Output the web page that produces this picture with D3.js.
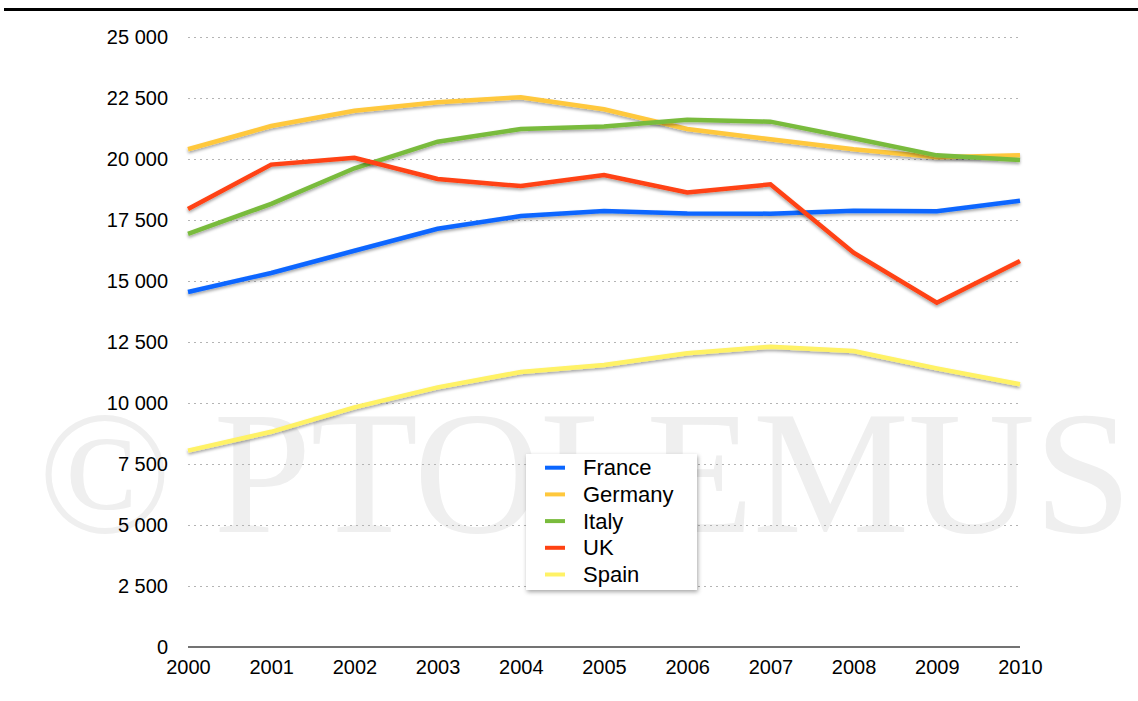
<!DOCTYPE html>
<html>
<head>
<meta charset="utf-8">
<script src="https://cdn.jsdelivr.net/npm/d3@7"></script>
<style>
  html, body { margin: 0; padding: 0; background: #fff; }
  svg { display: block; }
</style>
</head>
<body>
<svg id="chart" width="1138" height="701"></svg>
<script>
const years = [2000, 2001, 2002, 2003, 2004, 2005, 2006, 2007, 2008, 2009, 2010];
const france  = [14550, 15330, 16240, 17140, 17660, 17870, 17770, 17760, 17880, 17860, 18290];
const germany = [20400, 21350, 21980, 22330, 22530, 22040, 21230, 20810, 20400, 20070, 20150];
const italy   = [16930, 18160, 19620, 20710, 21230, 21330, 21610, 21530, 20850, 20150, 19960];
const uk      = [17950, 19770, 20050, 19180, 18890, 19340, 18630, 18960, 16160, 14110, 15820];
const spain   = [8050, 8820, 9820, 10640, 11270, 11560, 12040, 12310, 12130, 11420, 10770];
const seriesNames = ["France", "Germany", "Italy", "UK", "Spain"];
const seriesColors = ["#0a66ff", "#ffc83c", "#79bb3c", "#ff4212", "#fff266"];
const yTicks = [0, 2500, 5000, 7500, 10000, 12500, 15000, 17500, 20000, 22500, 25000];

const seriesValues = [france, germany, italy, uk, spain];
const series = seriesNames.map((n, i) => ({ name: n, color: seriesColors[i], values: seriesValues[i] }));

const svg = d3.select("#chart");
const x = d3.scaleLinear().domain([2000, 2010]).range([188, 1020]);
const y = d3.scaleLinear().domain([0, 25000]).range([647, 37]);

const defs = svg.append("defs");
const f = defs.append("filter").attr("id", "shadow").attr("x", "-10%").attr("y", "-10%").attr("width", "120%").attr("height", "130%");
f.append("feDropShadow").attr("dx", 0).attr("dy", 2).attr("stdDeviation", 1.6)
  .attr("flood-color", "#000").attr("flood-opacity", 0.35);
const f2 = defs.append("filter").attr("id", "boxshadow").attr("x", "-10%").attr("y", "-10%").attr("width", "125%").attr("height", "125%");
f2.append("feDropShadow").attr("dx", 1).attr("dy", 2).attr("stdDeviation", 2)
  .attr("flood-color", "#000").attr("flood-opacity", 0.35);

// top rule
svg.append("rect").attr("x", 4).attr("y", 8).attr("width", 1134).attr("height", 3).attr("fill", "#000");

// watermark
svg.append("text")
  .attr("x", 38).attr("y", 532)
  .attr("font-family", "'Liberation Serif', 'Times New Roman', serif")
  .attr("font-size", 176)
  .attr("fill", "#efefef")
  .attr("textLength", 1094)
  .attr("lengthAdjust", "spacing")
  .text("© PTOLEMUS");

// gridlines
svg.append("g").selectAll("line").data(yTicks.filter(d => d > 0)).join("line")
  .attr("x1", 188).attr("x2", 1020)
  .attr("y1", d => Math.round(y(d)) + 0.5).attr("y2", d => Math.round(y(d)) + 0.5)
  .attr("stroke", "#b4b4b4").attr("stroke-width", 1).attr("stroke-dasharray", "2,4");

// y axis labels
const fmt = d => d3.format(",")(d).replace(/,/g, " ");
const yAxis = d3.axisLeft(y).tickValues(yTicks).tickFormat(fmt).tickSize(0).tickPadding(0);
const yg = svg.append("g").attr("transform", "translate(168,0)").call(yAxis);
yg.select(".domain").remove();
yg.selectAll("text").attr("font-family", "'Liberation Sans', Arial, sans-serif").attr("font-size", 20).attr("fill", "#000");

// x axis
const xAxis = d3.axisBottom(x).tickValues(years).tickFormat(d3.format("d")).tickSize(0).tickPadding(0);
const xg = svg.append("g").attr("transform", "translate(0,647)").call(xAxis);
xg.select(".domain").attr("stroke", "#444").attr("stroke-width", 1.5).attr("d", "M188,0H1020");
xg.selectAll("text").attr("font-family", "'Liberation Sans', Arial, sans-serif").attr("font-size", 20).attr("fill", "#000")
  .attr("dy", null).attr("y", 27);

// lines
const line = d3.line().x((d, i) => x(years[i])).y(d => y(d));
const lg = svg.append("g");
lg.selectAll("path").data(series).join("path")
  .attr("d", d => line(d.values))
  .attr("fill", "none")
  .attr("stroke", d => d.color)
  .attr("stroke-width", 4.5)
  .attr("stroke-linejoin", "miter")
  .attr("filter", "url(#shadow)");

// legend
const leg = svg.append("g");
leg.append("rect").attr("x", 526).attr("y", 454).attr("width", 171).attr("height", 136)
  .attr("fill", "#fff").attr("filter", "url(#boxshadow)");
const rows = leg.selectAll("g.row").data(series).join("g").attr("class", "row")
  .attr("transform", (d, i) => `translate(0,${467.7 + i * 26.7})`);
rows.append("line").attr("x1", 545).attr("x2", 565).attr("y1", 0).attr("y2", 0)
  .attr("stroke", d => d.color).attr("stroke-width", 4);
rows.append("text").attr("x", 583).attr("y", 7.5)
  .attr("font-family", "'Liberation Sans', Arial, sans-serif").attr("font-size", 22).attr("fill", "#000")
  .text(d => d.name);
</script>
</body>
</html>
